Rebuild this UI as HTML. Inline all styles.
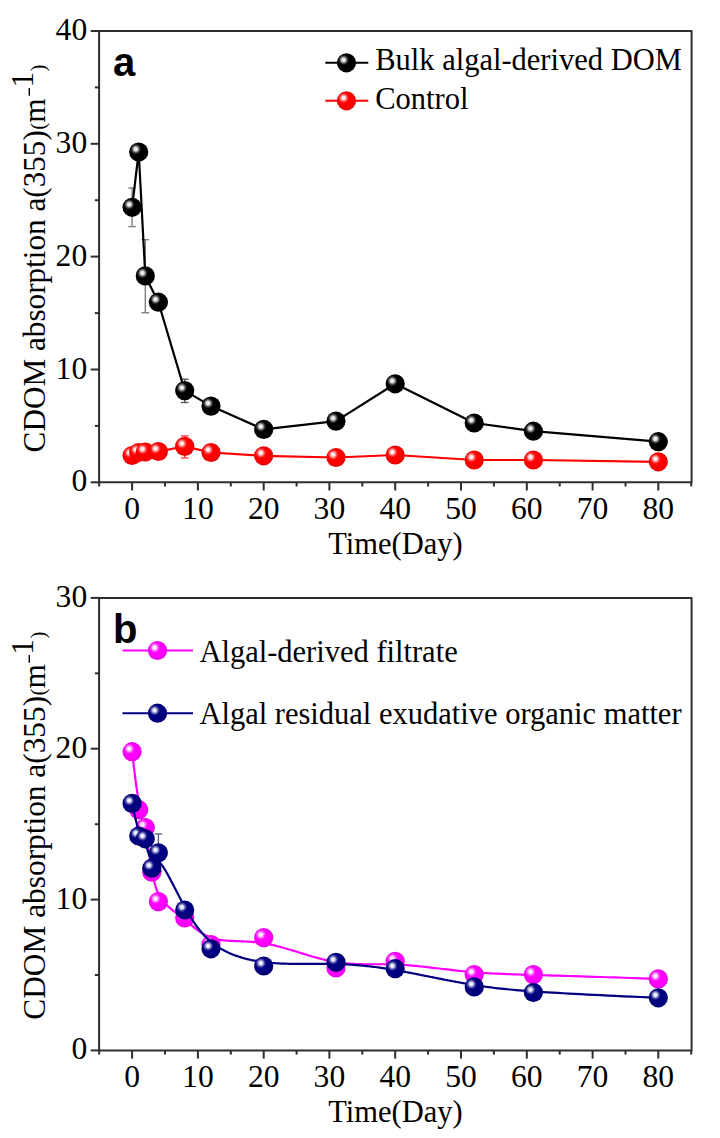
<!DOCTYPE html><html><head><meta charset="utf-8"><style>html,body{margin:0;padding:0;background:#fff;}svg{display:block;}</style></head><body>
<svg width="720" height="1138" viewBox="0 0 720 1138" font-family='"Liberation Serif", serif' fill="#000">
<defs>
<radialGradient id="gk" cx="0.5" cy="0.5" r="0.5" fx="0.4" fy="0.38">
<stop offset="0" stop-color="#000"/><stop offset="0.7" stop-color="#000"/><stop offset="1" stop-color="#000"/></radialGradient>
<radialGradient id="gr" cx="0.5" cy="0.5" r="0.5" fx="0.4" fy="0.38">
<stop offset="0" stop-color="#ff0000"/><stop offset="0.7" stop-color="#ff0000"/><stop offset="1" stop-color="#e80000"/></radialGradient>
<radialGradient id="gm" cx="0.5" cy="0.5" r="0.5" fx="0.4" fy="0.38">
<stop offset="0" stop-color="#ff00ff"/><stop offset="0.7" stop-color="#ff00ff"/><stop offset="1" stop-color="#e800e8"/></radialGradient>
<radialGradient id="gn" cx="0.5" cy="0.5" r="0.5" fx="0.4" fy="0.38">
<stop offset="0" stop-color="#000080"/><stop offset="0.7" stop-color="#000080"/><stop offset="1" stop-color="#000070"/></radialGradient>
<radialGradient id="hk" cx="0.5" cy="0.5" r="0.5">
<stop offset="0" stop-color="#f4f4f4" stop-opacity="1"/><stop offset="0.3" stop-color="#f4f4f4" stop-opacity="0.95"/><stop offset="0.6" stop-color="#909090" stop-opacity="0.7"/><stop offset="1" stop-color="#303030" stop-opacity="0"/></radialGradient>
<radialGradient id="hr" cx="0.5" cy="0.5" r="0.5">
<stop offset="0" stop-color="#fff4f4" stop-opacity="1"/><stop offset="0.3" stop-color="#fff4f4" stop-opacity="0.95"/><stop offset="0.6" stop-color="#ff9090" stop-opacity="0.7"/><stop offset="1" stop-color="#ff3030" stop-opacity="0"/></radialGradient>
<radialGradient id="hm" cx="0.5" cy="0.5" r="0.5">
<stop offset="0" stop-color="#fff4ff" stop-opacity="1"/><stop offset="0.3" stop-color="#fff4ff" stop-opacity="0.95"/><stop offset="0.6" stop-color="#ff90ff" stop-opacity="0.7"/><stop offset="1" stop-color="#ff30ff" stop-opacity="0"/></radialGradient>
<radialGradient id="hn" cx="0.5" cy="0.5" r="0.5">
<stop offset="0" stop-color="#f4f4ff" stop-opacity="1"/><stop offset="0.3" stop-color="#f4f4ff" stop-opacity="0.95"/><stop offset="0.6" stop-color="#9090c8" stop-opacity="0.7"/><stop offset="1" stop-color="#3030a0" stop-opacity="0"/></radialGradient>
</defs>
<rect width="720" height="1138" fill="#fff"/>
<rect x="99.1" y="31.0" width="592.5" height="451.3" fill="none" stroke="#2e2e2e" stroke-width="2" stroke-linejoin="round"/>
<line x1="90.7" y1="482.3" x2="99.1" y2="482.3" stroke="#2e2e2e" stroke-width="2"/>
<text x="87.2" y="491.3" text-anchor="end" font-size="31.6">0</text>
<line x1="94.9" y1="425.9" x2="99.1" y2="425.9" stroke="#2e2e2e" stroke-width="2"/>
<line x1="90.7" y1="369.5" x2="99.1" y2="369.5" stroke="#2e2e2e" stroke-width="2"/>
<text x="87.2" y="378.5" text-anchor="end" font-size="31.6">10</text>
<line x1="94.9" y1="313.1" x2="99.1" y2="313.1" stroke="#2e2e2e" stroke-width="2"/>
<line x1="90.7" y1="256.6" x2="99.1" y2="256.6" stroke="#2e2e2e" stroke-width="2"/>
<text x="87.2" y="265.6" text-anchor="end" font-size="31.6">20</text>
<line x1="94.9" y1="200.2" x2="99.1" y2="200.2" stroke="#2e2e2e" stroke-width="2"/>
<line x1="90.7" y1="143.8" x2="99.1" y2="143.8" stroke="#2e2e2e" stroke-width="2"/>
<text x="87.2" y="152.8" text-anchor="end" font-size="31.6">30</text>
<line x1="94.9" y1="87.4" x2="99.1" y2="87.4" stroke="#2e2e2e" stroke-width="2"/>
<line x1="90.7" y1="31.0" x2="99.1" y2="31.0" stroke="#2e2e2e" stroke-width="2"/>
<text x="87.2" y="40.0" text-anchor="end" font-size="31.6">40</text>
<line x1="99.2" y1="482.3" x2="99.2" y2="486.5" stroke="#2e2e2e" stroke-width="2"/>
<line x1="132.1" y1="482.3" x2="132.1" y2="490.5" stroke="#2e2e2e" stroke-width="2"/>
<text x="132.1" y="519.2" text-anchor="middle" font-size="31.6">0</text>
<line x1="165.0" y1="482.3" x2="165.0" y2="486.5" stroke="#2e2e2e" stroke-width="2"/>
<line x1="197.9" y1="482.3" x2="197.9" y2="490.5" stroke="#2e2e2e" stroke-width="2"/>
<text x="197.9" y="519.2" text-anchor="middle" font-size="31.6">10</text>
<line x1="230.8" y1="482.3" x2="230.8" y2="486.5" stroke="#2e2e2e" stroke-width="2"/>
<line x1="263.7" y1="482.3" x2="263.7" y2="490.5" stroke="#2e2e2e" stroke-width="2"/>
<text x="263.7" y="519.2" text-anchor="middle" font-size="31.6">20</text>
<line x1="296.6" y1="482.3" x2="296.6" y2="486.5" stroke="#2e2e2e" stroke-width="2"/>
<line x1="329.4" y1="482.3" x2="329.4" y2="490.5" stroke="#2e2e2e" stroke-width="2"/>
<text x="329.4" y="519.2" text-anchor="middle" font-size="31.6">30</text>
<line x1="362.3" y1="482.3" x2="362.3" y2="486.5" stroke="#2e2e2e" stroke-width="2"/>
<line x1="395.2" y1="482.3" x2="395.2" y2="490.5" stroke="#2e2e2e" stroke-width="2"/>
<text x="395.2" y="519.2" text-anchor="middle" font-size="31.6">40</text>
<line x1="428.1" y1="482.3" x2="428.1" y2="486.5" stroke="#2e2e2e" stroke-width="2"/>
<line x1="461.0" y1="482.3" x2="461.0" y2="490.5" stroke="#2e2e2e" stroke-width="2"/>
<text x="461.0" y="519.2" text-anchor="middle" font-size="31.6">50</text>
<line x1="493.9" y1="482.3" x2="493.9" y2="486.5" stroke="#2e2e2e" stroke-width="2"/>
<line x1="526.8" y1="482.3" x2="526.8" y2="490.5" stroke="#2e2e2e" stroke-width="2"/>
<text x="526.8" y="519.2" text-anchor="middle" font-size="31.6">60</text>
<line x1="559.7" y1="482.3" x2="559.7" y2="486.5" stroke="#2e2e2e" stroke-width="2"/>
<line x1="592.6" y1="482.3" x2="592.6" y2="490.5" stroke="#2e2e2e" stroke-width="2"/>
<text x="592.6" y="519.2" text-anchor="middle" font-size="31.6">70</text>
<line x1="625.5" y1="482.3" x2="625.5" y2="486.5" stroke="#2e2e2e" stroke-width="2"/>
<line x1="658.3" y1="482.3" x2="658.3" y2="490.5" stroke="#2e2e2e" stroke-width="2"/>
<text x="658.3" y="519.2" text-anchor="middle" font-size="31.6">80</text>
<line x1="691.2" y1="482.3" x2="691.2" y2="486.5" stroke="#2e2e2e" stroke-width="2"/>
<text x="395.5" y="553.8" text-anchor="middle" font-size="30.5">Time(Day)</text>
<text transform="translate(44.5,452.4) rotate(-90)" font-size="31.2">CDOM absorption a(355)<tspan font-size="21" dx="0.3">(</tspan><tspan font-size="31.2" dx="0">m</tspan><tspan dy="-11.5" dx="11.0">1</tspan><tspan dy="11.5" dx="0.5" font-size="21">)</tspan></text>
<line x1="29.3" y1="87.9" x2="29.3" y2="95.7" stroke="#000" stroke-width="1.4"/>
<text x="113" y="75.5" font-family='"Liberation Sans", sans-serif' font-weight="bold" font-size="40">a</text>
<line x1="132.1" y1="188.0" x2="132.1" y2="226.6" stroke="#808080" stroke-width="1.4"/>
<line x1="128.3" y1="188.0" x2="135.9" y2="188.0" stroke="#808080" stroke-width="1.4"/>
<line x1="128.3" y1="226.6" x2="135.9" y2="226.6" stroke="#808080" stroke-width="1.4"/>
<line x1="145.3" y1="239.7" x2="145.3" y2="312.7" stroke="#808080" stroke-width="1.4"/>
<line x1="141.5" y1="239.7" x2="149.1" y2="239.7" stroke="#808080" stroke-width="1.4"/>
<line x1="141.5" y1="312.7" x2="149.1" y2="312.7" stroke="#808080" stroke-width="1.4"/>
<line x1="184.7" y1="379.2" x2="184.7" y2="402.5" stroke="#555" stroke-width="1.4"/>
<line x1="180.9" y1="379.2" x2="188.5" y2="379.2" stroke="#555" stroke-width="1.4"/>
<line x1="180.9" y1="402.5" x2="188.5" y2="402.5" stroke="#555" stroke-width="1.4"/>
<line x1="184.7" y1="435.9" x2="184.7" y2="457.9" stroke="#f44" stroke-width="1.4"/>
<line x1="180.9" y1="435.9" x2="188.5" y2="435.9" stroke="#f44" stroke-width="1.4"/>
<line x1="180.9" y1="457.9" x2="188.5" y2="457.9" stroke="#f44" stroke-width="1.4"/>
<polyline points="132.1,455.5 138.7,452.5 145.3,452.0 158.4,451.5 184.7,446.4 211.0,452.5 263.7,455.8 336.0,457.5 395.2,455.0 474.2,460.0 533.4,460.0 658.3,461.8" fill="none" stroke="#ff0000" stroke-width="2.2" stroke-linejoin="round"/>
<polyline points="132.1,207.3 138.7,152.0 145.3,275.9 158.4,302.2 184.7,390.6 211.0,406.1 263.7,429.4 336.0,421.1 395.2,383.8 474.2,423.0 533.4,431.2 658.3,441.7" fill="none" stroke="#000" stroke-width="2.2" stroke-linejoin="round"/>
<circle cx="132.1" cy="455.5" r="9.6" fill="url(#gr)"/><circle cx="129.2" cy="452.6" r="5.6" fill="url(#hr)"/>
<circle cx="138.7" cy="452.5" r="9.6" fill="url(#gr)"/><circle cx="135.8" cy="449.6" r="5.6" fill="url(#hr)"/>
<circle cx="145.3" cy="452.0" r="9.6" fill="url(#gr)"/><circle cx="142.4" cy="449.1" r="5.6" fill="url(#hr)"/>
<circle cx="158.4" cy="451.5" r="9.6" fill="url(#gr)"/><circle cx="155.5" cy="448.6" r="5.6" fill="url(#hr)"/>
<circle cx="184.7" cy="446.4" r="9.6" fill="url(#gr)"/><circle cx="181.8" cy="443.5" r="5.6" fill="url(#hr)"/>
<circle cx="211.0" cy="452.5" r="9.6" fill="url(#gr)"/><circle cx="208.1" cy="449.6" r="5.6" fill="url(#hr)"/>
<circle cx="263.7" cy="455.8" r="9.6" fill="url(#gr)"/><circle cx="260.8" cy="452.9" r="5.6" fill="url(#hr)"/>
<circle cx="336.0" cy="457.5" r="9.6" fill="url(#gr)"/><circle cx="333.1" cy="454.6" r="5.6" fill="url(#hr)"/>
<circle cx="395.2" cy="455.0" r="9.6" fill="url(#gr)"/><circle cx="392.3" cy="452.1" r="5.6" fill="url(#hr)"/>
<circle cx="474.2" cy="460.0" r="9.6" fill="url(#gr)"/><circle cx="471.3" cy="457.1" r="5.6" fill="url(#hr)"/>
<circle cx="533.4" cy="460.0" r="9.6" fill="url(#gr)"/><circle cx="530.5" cy="457.1" r="5.6" fill="url(#hr)"/>
<circle cx="658.3" cy="461.8" r="9.6" fill="url(#gr)"/><circle cx="655.4" cy="458.9" r="5.6" fill="url(#hr)"/>
<circle cx="132.1" cy="207.3" r="9.6" fill="url(#gk)"/><circle cx="129.2" cy="204.4" r="5.6" fill="url(#hk)"/>
<circle cx="138.7" cy="152.0" r="9.6" fill="url(#gk)"/><circle cx="135.8" cy="149.1" r="5.6" fill="url(#hk)"/>
<circle cx="145.3" cy="275.9" r="9.6" fill="url(#gk)"/><circle cx="142.4" cy="273.0" r="5.6" fill="url(#hk)"/>
<circle cx="158.4" cy="302.2" r="9.6" fill="url(#gk)"/><circle cx="155.5" cy="299.3" r="5.6" fill="url(#hk)"/>
<circle cx="184.7" cy="390.6" r="9.6" fill="url(#gk)"/><circle cx="181.8" cy="387.7" r="5.6" fill="url(#hk)"/>
<circle cx="211.0" cy="406.1" r="9.6" fill="url(#gk)"/><circle cx="208.1" cy="403.2" r="5.6" fill="url(#hk)"/>
<circle cx="263.7" cy="429.4" r="9.6" fill="url(#gk)"/><circle cx="260.8" cy="426.5" r="5.6" fill="url(#hk)"/>
<circle cx="336.0" cy="421.1" r="9.6" fill="url(#gk)"/><circle cx="333.1" cy="418.2" r="5.6" fill="url(#hk)"/>
<circle cx="395.2" cy="383.8" r="9.6" fill="url(#gk)"/><circle cx="392.3" cy="380.9" r="5.6" fill="url(#hk)"/>
<circle cx="474.2" cy="423.0" r="9.6" fill="url(#gk)"/><circle cx="471.3" cy="420.1" r="5.6" fill="url(#hk)"/>
<circle cx="533.4" cy="431.2" r="9.6" fill="url(#gk)"/><circle cx="530.5" cy="428.4" r="5.6" fill="url(#hk)"/>
<circle cx="658.3" cy="441.7" r="9.6" fill="url(#gk)"/><circle cx="655.4" cy="438.8" r="5.6" fill="url(#hk)"/>
<line x1="325.3" y1="62.8" x2="368.3" y2="62.8" stroke="#000" stroke-width="2"/>
<circle cx="346.5" cy="62.8" r="9.6" fill="url(#gk)"/><circle cx="343.6" cy="59.9" r="5.6" fill="url(#hk)"/>
<text x="375.2" y="69.9" font-size="30.5">Bulk algal-derived DOM</text>
<line x1="325.3" y1="100.8" x2="368.3" y2="100.8" stroke="#ff0000" stroke-width="2"/>
<circle cx="346.5" cy="100.8" r="9.6" fill="url(#gr)"/><circle cx="343.6" cy="97.9" r="5.6" fill="url(#hr)"/>
<text x="375.2" y="108.6" font-size="30.5">Control</text>
<rect x="99.1" y="597.9" width="592.5" height="452.5" fill="none" stroke="#2e2e2e" stroke-width="2" stroke-linejoin="round"/>
<line x1="90.7" y1="1050.4" x2="99.1" y2="1050.4" stroke="#2e2e2e" stroke-width="2"/>
<text x="87.2" y="1059.4" text-anchor="end" font-size="31.6">0</text>
<line x1="94.9" y1="975.0" x2="99.1" y2="975.0" stroke="#2e2e2e" stroke-width="2"/>
<line x1="90.7" y1="899.6" x2="99.1" y2="899.6" stroke="#2e2e2e" stroke-width="2"/>
<text x="87.2" y="908.6" text-anchor="end" font-size="31.6">10</text>
<line x1="94.9" y1="824.2" x2="99.1" y2="824.2" stroke="#2e2e2e" stroke-width="2"/>
<line x1="90.7" y1="748.7" x2="99.1" y2="748.7" stroke="#2e2e2e" stroke-width="2"/>
<text x="87.2" y="757.7" text-anchor="end" font-size="31.6">20</text>
<line x1="94.9" y1="673.3" x2="99.1" y2="673.3" stroke="#2e2e2e" stroke-width="2"/>
<line x1="90.7" y1="597.9" x2="99.1" y2="597.9" stroke="#2e2e2e" stroke-width="2"/>
<text x="87.2" y="606.9" text-anchor="end" font-size="31.6">30</text>
<line x1="99.2" y1="1050.4" x2="99.2" y2="1054.6" stroke="#2e2e2e" stroke-width="2"/>
<line x1="132.1" y1="1050.4" x2="132.1" y2="1058.6" stroke="#2e2e2e" stroke-width="2"/>
<text x="132.1" y="1087.3" text-anchor="middle" font-size="31.6">0</text>
<line x1="165.0" y1="1050.4" x2="165.0" y2="1054.6" stroke="#2e2e2e" stroke-width="2"/>
<line x1="197.9" y1="1050.4" x2="197.9" y2="1058.6" stroke="#2e2e2e" stroke-width="2"/>
<text x="197.9" y="1087.3" text-anchor="middle" font-size="31.6">10</text>
<line x1="230.8" y1="1050.4" x2="230.8" y2="1054.6" stroke="#2e2e2e" stroke-width="2"/>
<line x1="263.7" y1="1050.4" x2="263.7" y2="1058.6" stroke="#2e2e2e" stroke-width="2"/>
<text x="263.7" y="1087.3" text-anchor="middle" font-size="31.6">20</text>
<line x1="296.6" y1="1050.4" x2="296.6" y2="1054.6" stroke="#2e2e2e" stroke-width="2"/>
<line x1="329.4" y1="1050.4" x2="329.4" y2="1058.6" stroke="#2e2e2e" stroke-width="2"/>
<text x="329.4" y="1087.3" text-anchor="middle" font-size="31.6">30</text>
<line x1="362.3" y1="1050.4" x2="362.3" y2="1054.6" stroke="#2e2e2e" stroke-width="2"/>
<line x1="395.2" y1="1050.4" x2="395.2" y2="1058.6" stroke="#2e2e2e" stroke-width="2"/>
<text x="395.2" y="1087.3" text-anchor="middle" font-size="31.6">40</text>
<line x1="428.1" y1="1050.4" x2="428.1" y2="1054.6" stroke="#2e2e2e" stroke-width="2"/>
<line x1="461.0" y1="1050.4" x2="461.0" y2="1058.6" stroke="#2e2e2e" stroke-width="2"/>
<text x="461.0" y="1087.3" text-anchor="middle" font-size="31.6">50</text>
<line x1="493.9" y1="1050.4" x2="493.9" y2="1054.6" stroke="#2e2e2e" stroke-width="2"/>
<line x1="526.8" y1="1050.4" x2="526.8" y2="1058.6" stroke="#2e2e2e" stroke-width="2"/>
<text x="526.8" y="1087.3" text-anchor="middle" font-size="31.6">60</text>
<line x1="559.7" y1="1050.4" x2="559.7" y2="1054.6" stroke="#2e2e2e" stroke-width="2"/>
<line x1="592.6" y1="1050.4" x2="592.6" y2="1058.6" stroke="#2e2e2e" stroke-width="2"/>
<text x="592.6" y="1087.3" text-anchor="middle" font-size="31.6">70</text>
<line x1="625.5" y1="1050.4" x2="625.5" y2="1054.6" stroke="#2e2e2e" stroke-width="2"/>
<line x1="658.3" y1="1050.4" x2="658.3" y2="1058.6" stroke="#2e2e2e" stroke-width="2"/>
<text x="658.3" y="1087.3" text-anchor="middle" font-size="31.6">80</text>
<line x1="691.2" y1="1050.4" x2="691.2" y2="1054.6" stroke="#2e2e2e" stroke-width="2"/>
<text x="395.5" y="1121.9" text-anchor="middle" font-size="30.5">Time(Day)</text>
<text transform="translate(44.5,1019.6999999999999) rotate(-90)" font-size="31.35">CDOM absorption a(355)<tspan font-size="21" dx="0.3">(</tspan><tspan font-size="31.35" dx="0">m</tspan><tspan dy="-11.5" dx="9.3">1</tspan><tspan dy="11.5" dx="0.8" font-size="21">)</tspan></text>
<line x1="29.3" y1="654.9" x2="29.3" y2="662.7" stroke="#000" stroke-width="1.4"/>
<text x="113" y="642.5" font-family='"Liberation Sans", sans-serif' font-weight="bold" font-size="40">b</text>
<line x1="158.4" y1="833.9" x2="158.4" y2="871.0" stroke="#5a5a8a" stroke-width="1.3"/>
<line x1="154.6" y1="833.9" x2="162.2" y2="833.9" stroke="#5a5a8a" stroke-width="1.3"/>
<line x1="154.6" y1="871.0" x2="162.2" y2="871.0" stroke="#5a5a8a" stroke-width="1.3"/>
<path d="M132.10,751.70 L132.59,755.97 L133.06,760.06 L133.53,763.97 L133.98,767.72 L134.42,771.30 L134.85,774.71 L135.27,777.98 L135.68,781.09 L136.08,784.06 L136.47,786.88 L136.85,789.58 L137.22,792.14 L137.58,794.57 L137.93,796.88 L138.27,799.08 L138.60,801.17 L138.93,803.15 L139.25,805.02 L139.56,806.81 L139.86,808.50 L140.15,810.10 L140.44,811.62 L140.72,813.07 L141.00,814.44 L141.27,815.75 L141.53,816.99 L141.78,818.18 L142.04,819.31 L142.28,820.40 L142.52,821.45 L142.76,822.45 L142.99,823.43 L143.22,824.38 L143.45,825.30 L143.67,826.21 L143.89,827.10 L144.10,827.99 L144.31,828.87 L144.52,829.76 L144.73,830.65 L144.93,831.55 L145.14,832.46 L145.34,833.38 L145.54,834.32 L145.73,835.26 L145.93,836.21 L146.12,837.17 L146.31,838.13 L146.50,839.10 L146.69,840.08 L146.88,841.07 L147.07,842.06 L147.25,843.05 L147.43,844.05 L147.61,845.05 L147.79,846.06 L147.97,847.07 L148.15,848.08 L148.33,849.09 L148.50,850.11 L148.68,851.12 L148.85,852.14 L149.02,853.15 L149.20,854.16 L149.37,855.18 L149.54,856.19 L149.71,857.20 L149.87,858.20 L150.04,859.20 L150.21,860.20 L150.38,861.20 L150.54,862.18 L150.71,863.17 L150.88,864.14 L151.04,865.12 L151.21,866.08 L151.37,867.03 L151.54,867.98 L151.70,868.92 L151.87,869.85 L152.03,870.77 L152.20,871.68 L152.36,872.59 L152.53,873.48 L152.70,874.36 L152.87,875.23 L153.04,876.10 L153.21,876.95 L153.39,877.80 L153.57,878.63 L153.75,879.46 L153.94,880.28 L154.13,881.09 L154.32,881.89 L154.52,882.68 L154.72,883.46 L154.93,884.23 L155.15,885.00 L155.37,885.75 L155.59,886.50 L155.82,887.23 L156.06,887.96 L156.31,888.68 L156.56,889.39 L156.82,890.09 L157.08,890.78 L157.36,891.47 L157.64,892.14 L157.94,892.81 L158.24,893.47 L158.55,894.12 L158.87,894.76 L159.20,895.39 L159.54,896.02 L159.90,896.63 L160.26,897.24 L160.63,897.84 L161.02,898.43 L161.42,899.01 L161.83,899.59 L162.25,900.15 L162.68,900.71 L163.13,901.26 L163.58,901.81 L164.05,902.35 L164.53,902.88 L165.02,903.40 L165.52,903.92 L166.03,904.44 L166.55,904.95 L167.08,905.45 L167.61,905.95 L168.16,906.45 L168.71,906.94 L169.27,907.44 L169.84,907.93 L170.42,908.41 L171.00,908.90 L171.59,909.38 L172.19,909.86 L172.79,910.34 L173.40,910.83 L174.01,911.31 L174.63,911.79 L175.26,912.27 L175.89,912.75 L176.52,913.24 L177.16,913.73 L177.80,914.22 L178.44,914.71 L179.09,915.20 L179.73,915.70 L180.39,916.20 L181.04,916.71 L181.70,917.22 L182.35,917.73 L183.01,918.25 L183.67,918.78 L184.33,919.31 L184.99,919.85 L185.65,920.39 L186.31,920.94 L186.97,921.50 L187.63,922.06 L188.30,922.62 L188.96,923.19 L189.63,923.75 L190.30,924.32 L190.98,924.89 L191.66,925.46 L192.34,926.03 L193.03,926.60 L193.73,927.16 L194.43,927.72 L195.13,928.28 L195.84,928.84 L196.56,929.39 L197.29,929.93 L198.02,930.47 L198.76,931.00 L199.51,931.53 L200.27,932.04 L201.04,932.55 L201.82,933.04 L202.61,933.53 L203.40,934.01 L204.21,934.47 L205.03,934.92 L205.87,935.36 L206.71,935.78 L207.57,936.19 L208.44,936.59 L209.32,936.96 L210.22,937.32 L211.13,937.67 L212.06,937.99 L213.00,938.30 L213.96,938.59 L214.93,938.86 L215.92,939.10 L216.92,939.33 L217.95,939.54 L218.98,939.73 L220.04,939.90 L221.11,940.05 L222.20,940.19 L223.30,940.32 L224.42,940.43 L225.55,940.53 L226.70,940.62 L227.86,940.71 L229.04,940.78 L230.24,940.85 L231.45,940.91 L232.67,940.96 L233.91,941.01 L235.17,941.06 L236.44,941.11 L237.72,941.15 L239.02,941.20 L240.34,941.25 L241.66,941.30 L243.01,941.36 L244.36,941.42 L245.73,941.49 L247.12,941.56 L248.51,941.64 L249.93,941.73 L251.35,941.84 L252.79,941.95 L254.24,942.08 L255.71,942.22 L257.18,942.38 L258.68,942.55 L260.18,942.74 L261.70,942.95 L263.23,943.18 L264.77,943.43 L266.32,943.70 L267.89,944.00 L269.47,944.31 L271.06,944.65 L272.66,945.01 L274.28,945.39 L275.90,945.78 L277.53,946.20 L279.17,946.63 L280.82,947.07 L282.48,947.53 L284.14,948.00 L285.82,948.48 L287.49,948.97 L289.18,949.46 L290.87,949.97 L292.56,950.48 L294.26,951.00 L295.96,951.52 L297.67,952.05 L299.38,952.57 L301.09,953.10 L302.80,953.63 L304.51,954.15 L306.23,954.67 L307.94,955.19 L309.66,955.70 L311.37,956.21 L313.08,956.71 L314.79,957.20 L316.50,957.67 L318.21,958.14 L319.91,958.60 L321.60,959.04 L323.30,959.47 L324.98,959.88 L326.67,960.27 L328.34,960.65 L330.01,961.01 L331.68,961.34 L333.33,961.66 L334.98,961.95 L336.62,962.22 L338.25,962.47 L339.87,962.70 L341.49,962.91 L343.10,963.09 L344.71,963.26 L346.31,963.42 L347.91,963.55 L349.51,963.68 L351.10,963.78 L352.69,963.88 L354.27,963.96 L355.86,964.03 L357.44,964.08 L359.02,964.13 L360.61,964.17 L362.19,964.20 L363.77,964.23 L365.36,964.24 L366.95,964.25 L368.54,964.26 L370.13,964.26 L371.73,964.26 L373.33,964.26 L374.93,964.26 L376.54,964.25 L378.16,964.25 L379.78,964.25 L381.41,964.25 L383.04,964.26 L384.68,964.27 L386.33,964.28 L387.99,964.30 L389.66,964.33 L391.34,964.36 L393.03,964.41 L394.73,964.46 L396.44,964.52 L398.16,964.60 L399.90,964.69 L401.64,964.79 L403.40,964.90 L405.18,965.02 L406.96,965.15 L408.75,965.30 L410.56,965.45 L412.38,965.61 L414.20,965.78 L416.04,965.96 L417.89,966.14 L419.76,966.33 L421.63,966.53 L423.51,966.74 L425.40,966.95 L427.30,967.16 L429.22,967.38 L431.14,967.60 L433.07,967.83 L435.01,968.05 L436.96,968.28 L438.92,968.51 L440.89,968.75 L442.87,968.98 L444.86,969.21 L446.85,969.45 L448.85,969.68 L450.87,969.91 L452.89,970.14 L454.91,970.36 L456.95,970.59 L458.99,970.81 L461.04,971.02 L463.10,971.23 L465.16,971.44 L467.24,971.64 L469.31,971.83 L471.40,972.02 L473.49,972.20 L475.59,972.37 L477.70,972.53 L479.82,972.69 L481.96,972.83 L484.13,972.98 L486.35,973.11 L488.61,973.24 L490.94,973.37 L493.33,973.49 L495.79,973.61 L498.35,973.72 L500.99,973.84 L503.74,973.95 L506.60,974.06 L509.58,974.17 L512.69,974.28 L515.94,974.39 L519.33,974.50 L522.88,974.62 L526.60,974.73 L530.49,974.85 L534.56,974.98 L538.82,975.11 L543.28,975.24 L547.95,975.38 L552.84,975.53 L557.96,975.68 L563.31,975.84 L568.91,976.01 L574.76,976.19 L580.87,976.37 L587.25,976.57 L593.91,976.78 L600.86,977.00 L608.11,977.23 L615.66,977.47 L623.53,977.73 L631.73,978.00 L640.25,978.28 L649.12,978.58 L658.34,978.90" fill="none" stroke="#ff00ff" stroke-width="2.2" stroke-linejoin="round"/>
<circle cx="132.1" cy="751.7" r="9.6" fill="url(#gm)"/><circle cx="129.2" cy="748.8" r="5.6" fill="url(#hm)"/>
<circle cx="138.7" cy="809.7" r="9.6" fill="url(#gm)"/><circle cx="135.8" cy="806.8" r="5.6" fill="url(#hm)"/>
<circle cx="145.3" cy="827.6" r="9.6" fill="url(#gm)"/><circle cx="142.4" cy="824.7" r="5.6" fill="url(#hm)"/>
<circle cx="151.8" cy="872.2" r="9.6" fill="url(#gm)"/><circle cx="148.9" cy="869.3" r="5.6" fill="url(#hm)"/>
<circle cx="158.4" cy="901.6" r="9.6" fill="url(#gm)"/><circle cx="155.5" cy="898.7" r="5.6" fill="url(#hm)"/>
<circle cx="184.7" cy="917.9" r="9.6" fill="url(#gm)"/><circle cx="181.8" cy="915.0" r="5.6" fill="url(#hm)"/>
<circle cx="211.0" cy="944.6" r="9.6" fill="url(#gm)"/><circle cx="208.1" cy="941.7" r="5.6" fill="url(#hm)"/>
<circle cx="263.7" cy="937.6" r="9.6" fill="url(#gm)"/><circle cx="260.8" cy="934.7" r="5.6" fill="url(#hm)"/>
<circle cx="336.0" cy="967.9" r="9.6" fill="url(#gm)"/><circle cx="333.1" cy="965.0" r="5.6" fill="url(#hm)"/>
<circle cx="395.2" cy="961.3" r="9.6" fill="url(#gm)"/><circle cx="392.3" cy="958.4" r="5.6" fill="url(#hm)"/>
<circle cx="474.2" cy="974.6" r="9.6" fill="url(#gm)"/><circle cx="471.3" cy="971.7" r="5.6" fill="url(#hm)"/>
<circle cx="533.4" cy="974.6" r="9.6" fill="url(#gm)"/><circle cx="530.5" cy="971.7" r="5.6" fill="url(#hm)"/>
<circle cx="658.3" cy="978.9" r="9.6" fill="url(#gm)"/><circle cx="655.4" cy="976.0" r="5.6" fill="url(#hm)"/>
<path d="M132.10,803.40 L132.59,805.79 L133.06,808.07 L133.53,810.24 L133.98,812.30 L134.42,814.26 L134.85,816.11 L135.27,817.87 L135.68,819.53 L136.08,821.10 L136.47,822.59 L136.85,823.99 L137.22,825.31 L137.58,826.55 L137.93,827.72 L138.27,828.82 L138.60,829.85 L138.93,830.82 L139.25,831.72 L139.56,832.57 L139.86,833.36 L140.15,834.11 L140.44,834.80 L140.72,835.45 L141.00,836.07 L141.27,836.64 L141.53,837.18 L141.78,837.69 L142.04,838.17 L142.28,838.63 L142.52,839.07 L142.76,839.49 L142.99,839.89 L143.22,840.29 L143.45,840.68 L143.67,841.06 L143.89,841.45 L144.10,841.83 L144.31,842.22 L144.52,842.63 L144.73,843.04 L144.93,843.47 L145.14,843.92 L145.34,844.38 L145.54,844.85 L145.73,845.33 L145.93,845.82 L146.12,846.32 L146.31,846.83 L146.50,847.35 L146.69,847.87 L146.88,848.40 L147.07,848.93 L147.25,849.46 L147.43,850.00 L147.61,850.53 L147.79,851.06 L147.97,851.60 L148.15,852.12 L148.33,852.65 L148.50,853.17 L148.68,853.68 L148.85,854.19 L149.02,854.69 L149.20,855.17 L149.37,855.65 L149.54,856.12 L149.71,856.57 L149.87,857.01 L150.04,857.43 L150.21,857.84 L150.38,858.23 L150.54,858.60 L150.71,858.95 L150.88,859.28 L151.04,859.59 L151.21,859.87 L151.37,860.14 L151.54,860.37 L151.70,860.58 L151.87,860.77 L152.03,860.92 L152.20,861.05 L152.36,861.16 L152.53,861.24 L152.70,861.31 L152.87,861.35 L153.04,861.38 L153.21,861.40 L153.39,861.40 L153.57,861.39 L153.75,861.37 L153.94,861.34 L154.13,861.31 L154.32,861.27 L154.52,861.23 L154.72,861.19 L154.93,861.16 L155.15,861.12 L155.37,861.10 L155.59,861.07 L155.82,861.06 L156.06,861.06 L156.31,861.08 L156.56,861.10 L156.82,861.15 L157.08,861.21 L157.36,861.29 L157.64,861.40 L157.94,861.53 L158.24,861.68 L158.55,861.87 L158.87,862.08 L159.20,862.32 L159.54,862.60 L159.90,862.91 L160.26,863.26 L160.63,863.65 L161.02,864.07 L161.42,864.54 L161.83,865.06 L162.25,865.62 L162.68,866.22 L163.13,866.87 L163.58,867.55 L164.05,868.28 L164.53,869.05 L165.02,869.85 L165.52,870.68 L166.03,871.55 L166.55,872.45 L167.08,873.39 L167.61,874.35 L168.16,875.34 L168.71,876.35 L169.27,877.40 L169.84,878.46 L170.42,879.55 L171.00,880.66 L171.59,881.79 L172.19,882.93 L172.79,884.09 L173.40,885.27 L174.01,886.46 L174.63,887.67 L175.26,888.88 L175.89,890.10 L176.52,891.34 L177.16,892.57 L177.80,893.82 L178.44,895.06 L179.09,896.31 L179.73,897.56 L180.39,898.81 L181.04,900.06 L181.70,901.30 L182.35,902.54 L183.01,903.77 L183.67,904.99 L184.33,906.21 L184.99,907.41 L185.65,908.61 L186.31,909.79 L186.97,910.96 L187.63,912.11 L188.30,913.26 L188.96,914.39 L189.63,915.52 L190.30,916.63 L190.98,917.72 L191.66,918.81 L192.34,919.88 L193.03,920.95 L193.73,922.00 L194.43,923.03 L195.13,924.06 L195.84,925.07 L196.56,926.07 L197.29,927.06 L198.02,928.04 L198.76,929.00 L199.51,929.95 L200.27,930.89 L201.04,931.81 L201.82,932.72 L202.61,933.62 L203.40,934.51 L204.21,935.38 L205.03,936.25 L205.87,937.09 L206.71,937.93 L207.57,938.75 L208.44,939.56 L209.32,940.35 L210.22,941.14 L211.13,941.91 L212.06,942.66 L213.00,943.40 L213.96,944.13 L214.93,944.85 L215.92,945.55 L216.92,946.24 L217.95,946.91 L218.98,947.57 L220.04,948.22 L221.11,948.85 L222.20,949.48 L223.30,950.08 L224.42,950.68 L225.55,951.26 L226.70,951.82 L227.86,952.38 L229.04,952.92 L230.24,953.44 L231.45,953.95 L232.67,954.45 L233.91,954.94 L235.17,955.41 L236.44,955.87 L237.72,956.32 L239.02,956.75 L240.34,957.17 L241.66,957.58 L243.01,957.97 L244.36,958.35 L245.73,958.71 L247.12,959.07 L248.51,959.41 L249.93,959.73 L251.35,960.05 L252.79,960.34 L254.24,960.63 L255.71,960.90 L257.18,961.16 L258.68,961.41 L260.18,961.65 L261.70,961.87 L263.23,962.07 L264.77,962.27 L266.32,962.45 L267.89,962.62 L269.47,962.77 L271.06,962.91 L272.66,963.04 L274.28,963.16 L275.90,963.27 L277.53,963.37 L279.17,963.46 L280.82,963.54 L282.48,963.61 L284.14,963.67 L285.82,963.72 L287.49,963.77 L289.18,963.81 L290.87,963.84 L292.56,963.87 L294.26,963.89 L295.96,963.90 L297.67,963.92 L299.38,963.92 L301.09,963.93 L302.80,963.93 L304.51,963.93 L306.23,963.92 L307.94,963.92 L309.66,963.91 L311.37,963.90 L313.08,963.90 L314.79,963.89 L316.50,963.88 L318.21,963.88 L319.91,963.87 L321.60,963.87 L323.30,963.88 L324.98,963.88 L326.67,963.89 L328.34,963.90 L330.01,963.92 L331.68,963.94 L333.33,963.97 L334.98,964.01 L336.62,964.05 L338.25,964.10 L339.87,964.15 L341.49,964.21 L343.10,964.28 L344.71,964.35 L346.31,964.43 L347.91,964.52 L349.51,964.61 L351.10,964.71 L352.69,964.82 L354.27,964.93 L355.86,965.05 L357.44,965.18 L359.02,965.31 L360.61,965.45 L362.19,965.60 L363.77,965.75 L365.36,965.92 L366.95,966.08 L368.54,966.26 L370.13,966.44 L371.73,966.63 L373.33,966.82 L374.93,967.02 L376.54,967.23 L378.16,967.45 L379.78,967.67 L381.41,967.90 L383.04,968.14 L384.68,968.39 L386.33,968.64 L387.99,968.90 L389.66,969.16 L391.34,969.44 L393.03,969.72 L394.73,970.01 L396.44,970.30 L398.16,970.61 L399.90,970.92 L401.64,971.23 L403.40,971.56 L405.18,971.89 L406.96,972.23 L408.75,972.57 L410.56,972.92 L412.38,973.27 L414.20,973.63 L416.04,973.99 L417.89,974.36 L419.76,974.73 L421.63,975.10 L423.51,975.48 L425.40,975.86 L427.30,976.24 L429.22,976.62 L431.14,977.01 L433.07,977.40 L435.01,977.78 L436.96,978.17 L438.92,978.56 L440.89,978.95 L442.87,979.34 L444.86,979.73 L446.85,980.11 L448.85,980.50 L450.87,980.88 L452.89,981.26 L454.91,981.64 L456.95,982.02 L458.99,982.39 L461.04,982.77 L463.10,983.13 L465.16,983.49 L467.24,983.85 L469.31,984.21 L471.40,984.55 L473.49,984.90 L475.59,985.23 L477.70,985.56 L479.82,985.89 L481.96,986.21 L484.13,986.52 L486.35,986.83 L488.61,987.14 L490.94,987.44 L493.33,987.74 L495.79,988.04 L498.35,988.33 L500.99,988.62 L503.74,988.91 L506.60,989.19 L509.58,989.48 L512.69,989.77 L515.94,990.05 L519.33,990.34 L522.88,990.62 L526.60,990.91 L530.49,991.19 L534.56,991.48 L538.82,991.77 L543.28,992.07 L547.95,992.36 L552.84,992.66 L557.96,992.97 L563.31,993.27 L568.91,993.58 L574.76,993.90 L580.87,994.22 L587.25,994.55 L593.91,994.88 L600.86,995.22 L608.11,995.56 L615.66,995.92 L623.53,996.28 L631.73,996.65 L640.25,997.02 L649.12,997.41 L658.34,997.80" fill="none" stroke="#000080" stroke-width="2.2" stroke-linejoin="round"/>
<circle cx="132.1" cy="803.4" r="9.6" fill="url(#gn)"/><circle cx="129.2" cy="800.5" r="5.6" fill="url(#hn)"/>
<circle cx="138.7" cy="836.0" r="9.6" fill="url(#gn)"/><circle cx="135.8" cy="833.1" r="5.6" fill="url(#hn)"/>
<circle cx="145.3" cy="838.8" r="9.6" fill="url(#gn)"/><circle cx="142.4" cy="835.9" r="5.6" fill="url(#hn)"/>
<circle cx="151.8" cy="868.2" r="9.6" fill="url(#gn)"/><circle cx="148.9" cy="865.3" r="5.6" fill="url(#hn)"/>
<circle cx="158.4" cy="852.8" r="9.6" fill="url(#gn)"/><circle cx="155.5" cy="849.9" r="5.6" fill="url(#hn)"/>
<circle cx="184.7" cy="910.0" r="9.6" fill="url(#gn)"/><circle cx="181.8" cy="907.1" r="5.6" fill="url(#hn)"/>
<circle cx="211.0" cy="948.8" r="9.6" fill="url(#gn)"/><circle cx="208.1" cy="945.9" r="5.6" fill="url(#hn)"/>
<circle cx="263.7" cy="966.0" r="9.6" fill="url(#gn)"/><circle cx="260.8" cy="963.1" r="5.6" fill="url(#hn)"/>
<circle cx="336.0" cy="962.3" r="9.6" fill="url(#gn)"/><circle cx="333.1" cy="959.4" r="5.6" fill="url(#hn)"/>
<circle cx="395.2" cy="968.7" r="9.6" fill="url(#gn)"/><circle cx="392.3" cy="965.8" r="5.6" fill="url(#hn)"/>
<circle cx="474.2" cy="986.9" r="9.6" fill="url(#gn)"/><circle cx="471.3" cy="984.0" r="5.6" fill="url(#hn)"/>
<circle cx="533.4" cy="992.5" r="9.6" fill="url(#gn)"/><circle cx="530.5" cy="989.6" r="5.6" fill="url(#hn)"/>
<circle cx="658.3" cy="997.8" r="9.6" fill="url(#gn)"/><circle cx="655.4" cy="994.9" r="5.6" fill="url(#hn)"/>
<line x1="122.5" y1="650.5" x2="193" y2="650.5" stroke="#ff00ff" stroke-width="2"/>
<circle cx="157.5" cy="650.5" r="9.6" fill="url(#gm)"/><circle cx="154.6" cy="647.6" r="5.6" fill="url(#hm)"/>
<text x="199.4" y="661.6" font-size="30.5">Algal-derived filtrate</text>
<line x1="122.5" y1="713.2" x2="193" y2="713.2" stroke="#000080" stroke-width="2"/>
<circle cx="157.5" cy="713.2" r="9.6" fill="url(#gn)"/><circle cx="154.6" cy="710.3" r="5.6" fill="url(#hn)"/>
<text x="199.4" y="723.6" font-size="30.5">Algal residual exudative organic matter</text>
</svg></body></html>
